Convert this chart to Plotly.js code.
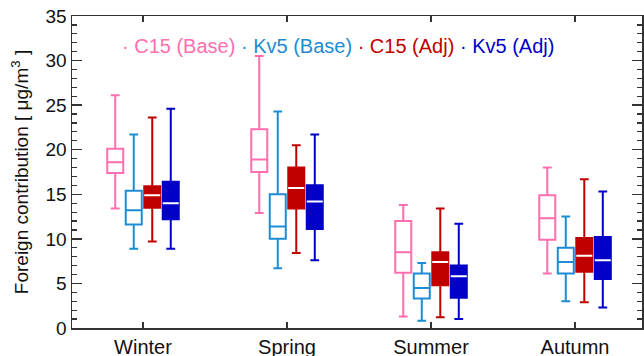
<!DOCTYPE html>
<html>
<head>
<meta charset="utf-8">
<script src="https://cdn.plot.ly/plotly-3.0.1.min.js"></script>
<style>html,body{margin:0;padding:0;background:#fff}#chart{width:644px;height:356px}</style>
</head>
<body>
<div id="chart"></div>
<script>
const seasons = ['Winter', 'Spring', 'Summer', 'Autumn'];

const c15BaseLow  = [13.4, 12.9, 1.3, 6.1];
const c15BaseQ1   = [17.4, 17.5, 6.2, 9.9];
const c15BaseMed  = [18.6, 18.9, 8.5, 12.3];
const c15BaseQ3   = [20.1, 22.3, 12.0, 14.9];
const c15BaseHigh = [26.1, 30.5, 13.8, 18.0];

const kv5BaseLow  = [8.9, 6.7, 0.8, 3.0];
const kv5BaseQ1   = [11.6, 10.0, 3.3, 6.1];
const kv5BaseMed  = [13.2, 11.4, 4.5, 7.4];
const kv5BaseQ3   = [15.4, 15.0, 6.1, 9.0];
const kv5BaseHigh = [21.7, 24.3, 7.3, 12.5];

const c15AdjLow  = [9.7, 8.4, 1.2, 2.9];
const c15AdjQ1   = [13.5, 13.4, 4.8, 6.3];
const c15AdjMed  = [14.9, 15.7, 7.4, 8.1];
const c15AdjQ3   = [15.9, 18.0, 8.5, 10.1];
const c15AdjHigh = [23.6, 20.5, 13.4, 16.7];

const kv5AdjLow  = [8.9, 7.6, 1.0, 2.3];
const kv5AdjQ1   = [12.2, 11.1, 3.4, 5.5];
const kv5AdjMed  = [14.0, 14.2, 5.8, 7.6];
const kv5AdjQ3   = [16.4, 16.0, 7.0, 10.2];
const kv5AdjHigh = [24.6, 21.7, 11.7, 15.3];

const seriesNames = ['C15 (Base)', 'Kv5 (Base)', 'C15 (Adj)', 'Kv5 (Adj)'];
const colors = ['#FF6EAE', '#1E8CD2', '#C00000', '#0000C8'];

function boxTrace(name, low, q1, med, q3, high, color, filled, group) {
  return {
    type: 'box', name: name, x: seasons,
    lowerfence: low, q1: q1, median: med, q3: q3, upperfence: high,
    line: {color: color, width: 2},
    fillcolor: filled ? color : 'rgba(0,0,0,0)',
    whiskerwidth: 0.55,
    offsetgroup: group,
    boxpoints: false,
    hoverinfo: 'skip',
    showlegend: false
  };
}
function medianOverlay(name, med, group) {
  return {
    type: 'box', name: name + ' median', x: seasons,
    lowerfence: med, q1: med, median: med, q3: med, upperfence: med,
    line: {color: '#ffffff', width: 2},
    fillcolor: 'rgba(0,0,0,0)',
    whiskerwidth: 0,
    offsetgroup: group,
    boxpoints: false,
    hoverinfo: 'skip',
    showlegend: false
  };
}

const data = [
  boxTrace(seriesNames[0], c15BaseLow, c15BaseQ1, c15BaseMed, c15BaseQ3, c15BaseHigh, colors[0], false, 'a'),
  boxTrace(seriesNames[1], kv5BaseLow, kv5BaseQ1, kv5BaseMed, kv5BaseQ3, kv5BaseHigh, colors[1], false, 'b'),
  boxTrace(seriesNames[2], c15AdjLow, c15AdjQ1, c15AdjMed, c15AdjQ3, c15AdjHigh, colors[2], true, 'c'),
  boxTrace(seriesNames[3], kv5AdjLow, kv5AdjQ1, kv5AdjMed, kv5AdjQ3, kv5AdjHigh, colors[3], true, 'd'),
  medianOverlay(seriesNames[2], c15AdjMed, 'c'),
  medianOverlay(seriesNames[3], kv5AdjMed, 'd')
];

const legendText = seriesNames.map((n, i) =>
  '<span style="color:' + colors[i] + '">· ' + n + '</span>').join(' ');

const font = {family: 'Liberation Sans, Arial, sans-serif', color: '#111'};

const layout = {
  width: 644, height: 356,
  margin: {l: 72, r: 2, t: 16, b: 28, pad: 0},
  paper_bgcolor: '#fff', plot_bgcolor: '#fff',
  boxmode: 'group', boxgap: 0.486, boxgroupgap: 0.135,
  showlegend: false,
  font: font,
  xaxis: {
    type: 'category', range: [-0.493, 3.465],
    showline: true, linecolor: '#333', linewidth: 1.5, mirror: 'ticks',
    ticks: 'inside', ticklen: 6, tickcolor: '#333', tickwidth: 1.5,
    showgrid: false, zeroline: false,
    ticklabelstandoff: 0,
    tickfont: {size: 20, family: font.family, color: '#111'}
  },
  yaxis: {
    range: [0, 35], tick0: 0, dtick: 5,
    showline: true, linecolor: '#333', linewidth: 1.5, mirror: 'ticks',
    ticks: 'inside', ticklen: 10, tickcolor: '#333', tickwidth: 1.5,
    minor: {dtick: 1, ticks: 'inside', ticklen: 5, tickcolor: '#333', tickwidth: 1.2},
    showgrid: false, zeroline: false,
    tickfont: {size: 19, family: font.family, color: '#111'},
    title: {text: 'Foreign contribution [ μg/m<sup>3</sup> ]', font: {size: 19, family: font.family, color: '#111'}, standoff: 12}
  },
  annotations: [{
    xref: 'paper', yref: 'paper', x: 0.467, y: 0.905,
    xanchor: 'center', yanchor: 'middle', showarrow: false,
    text: legendText,
    font: {size: 20, family: font.family}
  }]
};

Plotly.newPlot('chart', data, layout, {staticPlot: true, displayModeBar: false});
</script>
</body>
</html>
